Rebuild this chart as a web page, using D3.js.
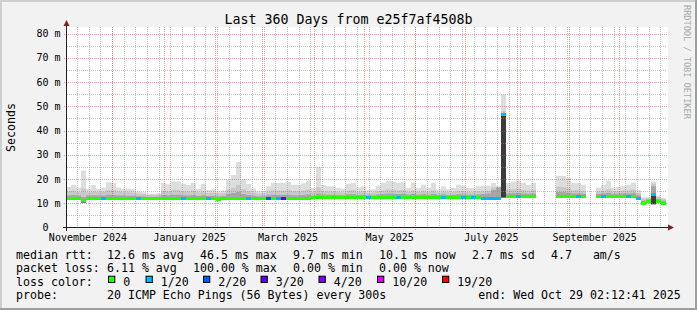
<!DOCTYPE html>
<html><head><meta charset="utf-8">
<script src="https://cdn.jsdelivr.net/npm/d3@7"></script>
<style>
html,body{margin:0;padding:0;background:#f2f2f2;}
svg{display:block;}
text{font-family:"DejaVu Sans Mono",monospace;white-space:pre;}
</style>
</head><body><svg id="c" width="697" height="310"></svg>
<script>
// ---------------- data ----------------
const startTime = "2024-11-03T02:12:41Z";
const endTime = "2025-10-29T02:12:41Z";
const binDays = 3; // each value below covers 3 days

const smokeMax = [16.7,17.5,16.5,23.5,16,17.5,16,16.5,18.8,18.3,
16.5,16,16,15.8,14.8,14.5,13.8,13.8,14,18.3,
17.8,19,19,18,17.5,18.3,16,18,15.5,15.8,
15,15.3,19.5,21.7,27,20,18,16,15,15,
17,18.5,18.3,18.3,18.8,17.6,17.6,18.2,19.4,16.3,
25,17.5,17,17,16.3,16,18,18.3,16.5,17,
15.5,15.8,17.2,18.3,19.4,19,18.3,18.8,16.3,18.6,
16.3,17.6,16.3,18.3,15.8,17,15.8,16.3,17.6,17.2,
16.3,16.3,17,17.2,17.2,18.3,17,55,18.3,19,
19.4,18.3,17.5,18.3,null,null,null,null,21.3,21.3,
20.4,18.3,18.3,17.6,null,null,16.5,17.6,19.3,16.3,
16.8,17.2,17.6,18.6,15.5,12.5,12.5,19,13.1,12.2];

const smokeUpper = [14.8,15.2,14.6,16,14.5,15,14.6,14.6,15.5,15.4,
14.8,14.6,14.5,14.4,13.9,13.8,13.4,13.4,13.6,15.2,
15,15.6,15.4,15,14.8,15.2,14.4,15,14.2,14.3,
14,14.1,15.6,16.4,17.5,15.8,15,14.4,14,14,
14.8,15.3,15.2,15.2,15.4,14.9,14.9,15.2,15.6,14.5,
16.5,15,14.8,14.8,14.5,14.4,15.2,15.3,14.6,14.8,
14.2,14.3,14.9,15.3,15.7,15.6,15.3,15.5,14.6,15.4,
14.6,15.1,14.6,15.3,14.4,14.8,14.4,14.6,15.1,14.9,
14.6,14.6,14.8,15,15.2,16.5,16.8,48,15.6,15.8,
16,15.5,15.2,15.5,null,null,null,null,16.8,16.6,
16.2,15.4,15.4,15.1,null,null,14.8,15.2,15.8,14.8,
15,15.2,15.3,15.6,14.2,12,12,18,12.6,11.6];

const smokeInner = [13.2,13.4,13.2,12.6,13.2,13.3,13.2,13.2,13.5,13.4,
13.2,13.2,13.1,13.1,12.9,12.8,12.7,12.7,12.8,13.4,
13.3,13.5,13.5,13.3,13.2,13.4,13,13.3,13,13,
12.9,13,13.8,14.2,14.6,13.8,13.4,13.1,12.9,12.9,
13.3,13.5,13.4,13.4,13.5,13.3,13.3,13.4,13.6,13.2,
14,13.6,13.5,13.5,13.4,13.3,13.7,13.7,13.4,13.5,
13.3,13.3,13.6,13.8,14,13.9,13.8,13.9,13.5,13.8,
13.5,13.7,13.5,13.8,13.4,13.6,13.4,13.5,13.7,13.6,
13.5,13.5,13.6,13.8,14,15.5,16.5,47,14,14.1,
14.2,14,13.9,14,null,null,null,null,14.6,14.5,
14.3,14,14,13.9,null,null,13.8,14,14.2,13.8,
13.9,14,14,14.2,13.3,11,11.6,17,11.8,11];

const medianRtt = [12.1,12.1,12.1,11.0,12.1,12.1,12.1,12.0,12.1,12.1,
12.1,12.0,12.0,12.0,12.0,12.0,12.0,12.0,12.1,12.1,
12.1,12.1,12.1,12.0,12.1,12.1,12.1,12.0,12.0,12.0,
11.7,12.0,12.1,12.1,12.1,12.0,12.0,12.0,12.0,12.0,
11.8,11.9,11.9,11.8,12.0,12.0,12.0,12.0,12.1,12.4,
12.5,12.5,12.5,12.5,12.5,12.4,12.4,12.5,12.5,12.5,
12.4,12.5,12.5,12.5,12.5,12.5,12.4,12.5,12.5,12.5,
12.5,12.5,12.5,12.5,12.5,12.4,12.5,12.5,12.5,12.4,
12.5,12.4,12.4,12.1,12.1,12.1,12.1,46.5,12.8,12.8,
12.7,12.8,12.7,12.8,null,null,null,null,12.8,12.8,
12.8,12.8,12.7,12.8,null,null,12.8,12.8,12.7,12.8,
12.8,12.8,12.7,12.9,12.0,9.8,10.9,13.5,10.9,10.1];

const smokeMin = [11.8,11.8,11.8,10.3,11.8,11.8,11.8,11.7,11.8,11.8,
11.8,11.7,11.7,11.7,11.7,11.7,11.7,11.7,11.8,11.8,
11.8,11.8,11.8,11.7,11.8,11.8,11.8,11.7,11.7,11.7,
11.2,11.7,11.8,11.8,11.8,11.7,11.7,11.7,11.7,11.7,
11.5,11.6,11.6,11.5,11.7,11.7,11.7,11.7,11.8,12.1,
12.2,12.2,12.2,12.2,12.2,12.1,12.1,12.2,12.2,12.2,
12.1,12.2,12.2,12.2,12.2,12.2,12.1,12.2,12.2,12.2,
12.2,12.2,12.2,12.2,12.2,12.1,12.2,12.2,12.2,12.1,
12.2,12.1,12.1,11.8,11.8,11.8,11.8,12.4,12.5,12.5,
12.4,12.5,12.4,12.5,null,null,null,null,12.5,12.5,
12.5,12.5,12.4,12.5,null,null,12.5,12.5,12.4,12.5,
12.5,12.5,12.4,12.6,11.7,9.4,10.6,9.6,10.6,9.8];

const lostPings = [0,0,0,0,0,0,0,1,0,0,
0,0,0,0,1,0,0,0,0,0,
0,0,0,1,0,0,0,0,1,0,
0,0,0,0,0,0,1,0,0,0,
2,0,1,3,0,0,0,0,0,0,
0,0,0,0,0,0,0,0,0,0,
1,0,0,0,0,0,1,0,0,0,
0,0,0,0,0,1,0,0,0,1,
0,1,0,1,1,1,1,1,0,0,
1,0,0,0,null,null,null,null,0,0,
0,0,1,0,null,null,0,1,0,0,
0,0,1,0,1,0,0,1,0,0];

const yTickValues = [0,10,20,30,40,50,60,70,80];
const yTickLabels = ["0","10 m","20 m","30 m","40 m","50 m","60 m","70 m","80 m"];
const monthLabels = ["November 2024","January 2025","March 2025","May 2025","July 2025","September 2025"];
const monthLabelDates = ["2024-11-01","2025-01-01","2025-03-01","2025-05-01","2025-07-01","2025-09-01"];

const lossLevels = [0,1,2,3,4,10,19];
const lossColors = ["#26ff00","#00b8ff","#0059ff","#5e00ff","#7e00ff","#dd00ff","#ff0000"];
const lossLabels = ["0","1/20","2/20","3/20","4/20","10/20","19/20"];

const titleText = "Last 360 Days from e25f7af4508b";
const rowLabels = ["median rtt:","packet loss:","loss color:","probe:"];
const medianStats = ["12.6 ms avg","46.5 ms max","9.7 ms min","10.1 ms now","2.7 ms sd","4.7   am/s"];
const lossStats = ["6.11 % avg","100.00 % max","0.00 % min","0.00 % now"];
const probeText = "20 ICMP Echo Pings (56 Bytes) every 300s";
const endText = "end: Wed Oct 29 02:12:41 2025";
const watermark = "RRDTOOL / TOBI OETIKER";
const yAxisTitle = "Seconds";

// ---------------- layout ----------------
const W = 697, H = 310;
const svg = d3.select("#c");
const t0 = new Date(startTime), t1 = new Date(endTime);
const x = d3.scaleUtc().domain([t0, t1]).range([66, 666]);
const y = d3.scaleLinear().domain([0, 80]).range([227.5, 33.5]);
const plotTop = 27;

// background and frame
svg.append("rect").attr("width", W).attr("height", H).attr("fill", "#f2f2f2");
svg.append("rect").attr("x",0).attr("y",0).attr("width",W).attr("height",2).attr("fill","#cfcfcf");
svg.append("rect").attr("x",0).attr("y",0).attr("width",2).attr("height",H).attr("fill","#cfcfcf");
svg.append("rect").attr("x",0).attr("y",H-2).attr("width",W).attr("height",2).attr("fill","#9e9e9e");
svg.append("rect").attr("x",W-2).attr("y",0).attr("width",2).attr("height",H).attr("fill","#9e9e9e");

// canvas
svg.append("rect").attr("x", 67).attr("y", plotTop).attr("width", 601).attr("height", 227.5 - plotTop)
  .attr("fill", "#ffffff");

// bins
const bins = smokeMax.map((v, i) => ({
  a: d3.utcDay.offset(t0, i * binDays),
  b: d3.utcDay.offset(t0, (i + 1) * binDays),
  max: v, upper: smokeUpper[i], inner: smokeInner[i], med: medianRtt[i], min: smokeMin[i], loss: lostPings[i]
}));
function pts(key) {
  const out = [];
  bins.forEach(d => { out.push({t: d.a, lo: d.min, hi: d[key]}); out.push({t: d.b, lo: d.min, hi: d[key]}); });
  return out;
}
const xc = t => Math.max(67, x(t));
const areaGen = d3.area().defined(d => d.hi != null).x(d => xc(d.t)).y0(d => y(d.lo)).y1(d => y(d.hi));
const gSmoke = svg.append("g");
[["max","#dddddd"],["upper","#c8c8c8"],["inner","#a6a6a6"],["med","#3c3c3c"]].forEach(([k, c]) => {
  gSmoke.append("path").attr("d", areaGen(pts(k))).attr("fill", c);
});

// grid
const gridG = svg.append("g");
const minorCol = "rgba(143,143,143,0.55)", majorCol = "rgba(222,79,79,0.55)";
d3.range(5, 81, 10).forEach(v => {
  gridG.append("line").attr("x1", 67).attr("x2", 667).attr("y1", Math.round(y(v)) + 0.5).attr("y2", Math.round(y(v)) + 0.5)
    .attr("stroke", minorCol).attr("stroke-dasharray", "1,1");
});
d3.utcSunday.range(t0, t1).forEach(t => {
  const xx = Math.floor(x(t)) + 0.5;
  gridG.append("line").attr("x1", xx).attr("x2", xx).attr("y1", plotTop).attr("y2", 227)
    .attr("stroke", minorCol).attr("stroke-dasharray", "1,1");
});
yTickValues.filter(v => v > 0).forEach(v => {
  gridG.append("line").attr("x1", 64).attr("x2", 667).attr("y1", Math.round(y(v)) + 0.5).attr("y2", Math.round(y(v)) + 0.5)
    .attr("stroke", majorCol).attr("stroke-dasharray", "1,1");
});
d3.utcMonth.range(t0, t1).forEach(t => {
  const xx = Math.floor(x(t)) + 0.5;
  gridG.append("line").attr("x1", xx).attr("x2", xx).attr("y1", plotTop).attr("y2", 230)
    .attr("stroke", majorCol).attr("stroke-dasharray", "1,1");
});

// median band colored by loss
function lossColor(l) {
  const k = lossLevels.findIndex(v => v >= l);
  return lossColors[k < 0 ? lossColors.length - 1 : k];
}
svg.append("g").selectAll("rect").data(bins.filter(d => d.med != null)).join("rect")
  .attr("x", d => xc(d.a)).attr("width", d => x(d.b) - xc(d.a))
  .attr("y", d => y(d.med) - 1.5).attr("height", 3)
  .attr("fill", d => lossColor(d.loss)).attr("shape-rendering", "crispEdges");

// axes
const axisCol = "#1f1f1f", arrowCol = "#801f1f";
svg.append("line").attr("x1", 66.5).attr("x2", 66.5).attr("y1", 231).attr("y2", 24).attr("stroke", axisCol);
svg.append("line").attr("x1", 63).attr("x2", 669).attr("y1", 227.5).attr("y2", 227.5).attr("stroke", axisCol);
svg.append("path").attr("d", "M66.5,20 L63.5,26 L69.5,26 Z").attr("fill", arrowCol);
svg.append("path").attr("d", "M674,227.5 L668,224.5 L668,230.5 Z").attr("fill", arrowCol);

// y labels
svg.append("g").selectAll("text").data(yTickValues).join("text")
  .attr("x", d => d === 0 ? 48.5 : 60.5).attr("y", d => y(d) + 3.6)
  .attr("text-anchor", "end").attr("font-size", 10).attr("fill", "#000")
  .text((d, i) => yTickLabels[i]);

// x labels (centered mid-period like rrdtool)
svg.append("g").selectAll("text").data(monthLabels).join("text")
  .attr("x", (d, i) => x(d3.utcDay.offset(new Date(monthLabelDates[i] + "T00:00:00Z"), 15)) + 0.5)
  .attr("y", 241).attr("text-anchor", "middle").attr("font-size", 10).text(d => d);

// title
svg.append("text").attr("x", 348.5).attr("y", 23.5).attr("text-anchor", "middle").attr("font-size", 13.3).text(titleText);
// y axis title
svg.append("text").attr("transform", "translate(15,127.5) rotate(-90)").attr("text-anchor", "middle")
  .attr("font-size", 11.6).text(yAxisTitle);
// watermark
svg.append("text").attr("transform", "translate(683.5,5) rotate(90)").attr("font-size", 8.6)
  .attr("fill", "#a8a8a8").text(watermark);

// legend: items laid out sequentially, rrdtool style (7px chars, 16px gap)
const fs = 11.6, cw = 7, gap = 16, rowsY = [258.5, 272.2, 285.8, 299.4];
const valX = 16 + 13 * cw;
rowLabels.forEach((t, i) => svg.append("text").attr("x", 16).attr("y", rowsY[i]).attr("font-size", fs).text(t));
function row(items, yy) {
  let xx = valX;
  items.forEach(t => {
    svg.append("text").attr("x", xx).attr("y", yy).attr("font-size", fs).text(t);
    xx += t.length * cw + gap;
  });
}
row(medianStats, rowsY[0]);
row(lossStats, rowsY[1]);
const boxX = [108.5, 146, 203.5, 261, 319, 377.5, 442.5];
lossLabels.forEach((t, i) => {
  svg.append("rect").attr("x", boxX[i]).attr("y", 276.2).attr("width", 6.3).attr("height", 6.3)
    .attr("fill", lossColors[i]).attr("stroke", "#000").attr("stroke-width", 1);
  svg.append("text").attr("x", boxX[i] + 14.8).attr("y", rowsY[2]).attr("font-size", fs).text(t);
});
svg.append("text").attr("x", valX).attr("y", rowsY[3]).attr("font-size", fs).text(probeText);
svg.append("text").attr("x", 478.3).attr("y", rowsY[3]).attr("font-size", fs).text(endText);
</script>
</body></html>
